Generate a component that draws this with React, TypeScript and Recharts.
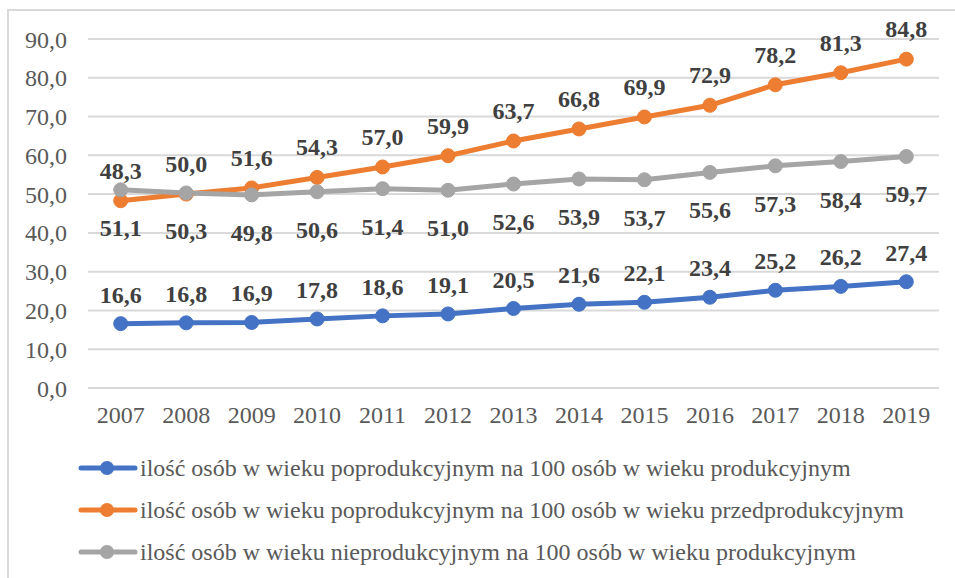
import React from "react";
import { LineChart, Line, XAxis, YAxis, CartesianGrid, LabelList } from "recharts";

const years = ["2007","2008","2009","2010","2011","2012","2013","2014","2015","2016","2017","2018","2019"];
const postProd = [16.6,16.8,16.9,17.8,18.6,19.1,20.5,21.6,22.1,23.4,25.2,26.2,27.4];
const postPre = [48.3,50.0,51.6,54.3,57.0,59.9,63.7,66.8,69.9,72.9,78.2,81.3,84.8];
const nonProd = [51.1,50.3,49.8,50.6,51.4,51.0,52.6,53.9,53.7,55.6,57.3,58.4,59.7];
const yTicks = [0,10,20,30,40,50,60,70,80,90];
const seriesNames = [
  "ilość osób w wieku poprodukcyjnym na 100 osób w wieku produkcyjnym",
  "ilość osób w wieku poprodukcyjnym na 100 osób w wieku przedprodukcyjnym",
  "ilość osób w wieku nieprodukcyjnym na 100 osób w wieku produkcyjnym",
];
const colors = ["#4472C4", "#ED7D31", "#A5A5A5"];

const data = years.map((y, i) => ({ year: y, a: postProd[i], b: postPre[i], c: nonProd[i] }));

const FONT = "'Liberation Serif', 'Times New Roman', serif";
const FS = 24;
const fmt = (v: number) => v.toFixed(1).replace(".", ",");

const makeLabel = (dyPx: number) => (props: any) => {
  const { x, y, value } = props;
  return (
    <text x={x} y={y + dyPx} textAnchor="middle" dominantBaseline="central"
      fontFamily={FONT} fontSize={FS} fontWeight="bold" fill="#404040">
      {fmt(value)}
    </text>
  );
};

const LegendBlock = () => (
  <div style={{ position: "absolute", left: 78, top: 447, fontFamily: FONT, fontSize: FS, color: "#595959" }}>
    {seriesNames.map((n, i) => (
      <div key={n} style={{ display: "flex", alignItems: "center", height: 42 }}>
        <svg width={60} height={20} style={{ marginRight: 2 }}>
          <line x1={3} y1={10} x2={57} y2={10} stroke={colors[i]} strokeWidth={5} strokeLinecap="round" />
          <circle cx={29} cy={10} r={7} fill={colors[i]} />
        </svg>
        <span style={{ whiteSpace: "nowrap" }}>{n}</span>
      </div>
    ))}
  </div>
);

export default function App() {
  return (
    <div style={{ position: "absolute", left: 0, top: 0, width: 955, height: 578, background: "#fff", overflow: "hidden" }}>
      <div style={{ position: "absolute", left: 7, top: 9, width: 1000, height: 700, border: "2px solid #D9D9D9" }} />
      <div style={{ position: "absolute", left: 0, top: 0 }}>
        <LineChart width={955} height={578} data={data} margin={{ top: 39, right: 16, bottom: 160, left: 0 }}>
          <CartesianGrid vertical={false} stroke="#D9D9D9" strokeWidth={2} />
          <XAxis dataKey="year" height={30} axisLine={false} tickLine={false} tickSize={0} tickMargin={18}
            padding={{ left: 32.7, right: 32.7 }} interval={0}
            tick={{ fontFamily: FONT, fontSize: FS, fill: "#595959" }} />
          <YAxis width={88} domain={[0, 90]} ticks={yTicks} interval={0} axisLine={false} tickLine={false}
            tickSize={0} tickMargin={21} tickFormatter={fmt}
            tick={{ fontFamily: FONT, fontSize: FS, fill: "#595959" }} />
          <Line dataKey="a" stroke={colors[0]} strokeWidth={5} isAnimationActive={false}
            dot={{ r: 7, fill: colors[0], stroke: colors[0], strokeWidth: 1 }} activeDot={false}>
            <LabelList dataKey="a" content={makeLabel(-29)} />
          </Line>
          <Line dataKey="b" stroke={colors[1]} strokeWidth={5} isAnimationActive={false}
            dot={{ r: 7, fill: colors[1], stroke: colors[1], strokeWidth: 1 }} activeDot={false}>
            <LabelList dataKey="b" content={makeLabel(-30)} />
          </Line>
          <Line dataKey="c" stroke={colors[2]} strokeWidth={5} isAnimationActive={false}
            dot={{ r: 7, fill: colors[2], stroke: colors[2], strokeWidth: 1 }} activeDot={false}>
            <LabelList dataKey="c" content={makeLabel(38)} />
          </Line>
        </LineChart>
      </div>
      <LegendBlock />
    </div>
  );
}
